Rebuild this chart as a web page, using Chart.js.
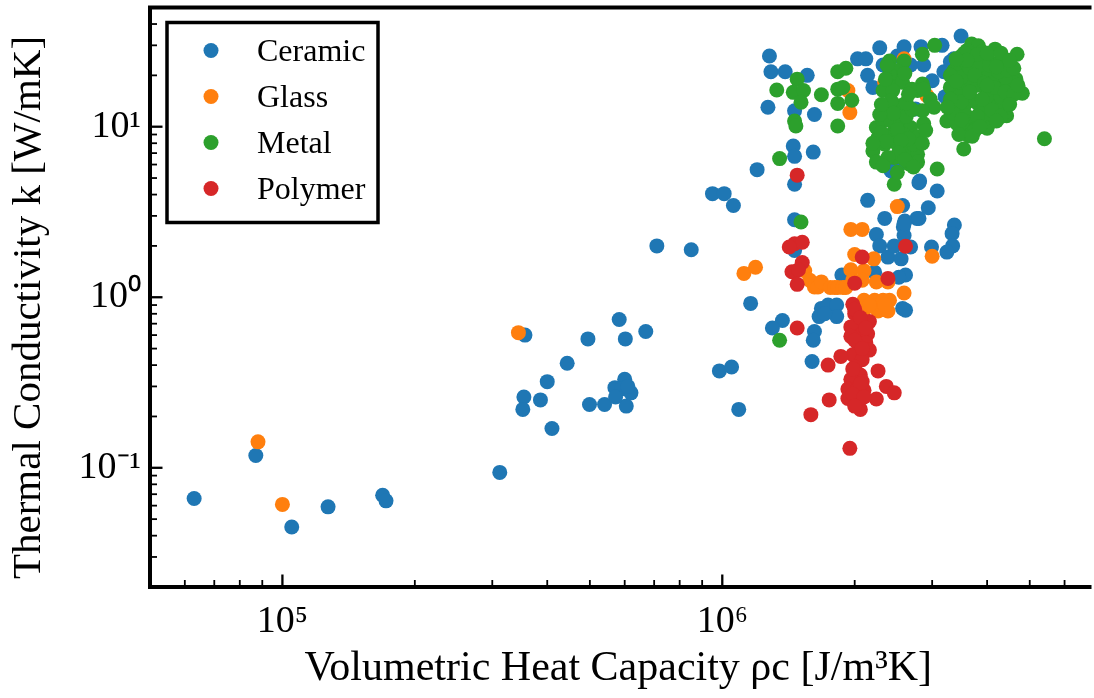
<!DOCTYPE html>
<html><head><meta charset="utf-8">
<script src="https://cdn.jsdelivr.net/npm/chart.js@4.4.0/dist/chart.umd.min.js"></script>
<style>html,body{margin:0;padding:0;background:#fff;}canvas{display:block;}</style>
</head><body>
<canvas id="c" width="1094" height="698"></canvas>
<script>
const seriesNames = ['Ceramic', 'Glass', 'Metal', 'Polymer'];
const seriesColors = ['#1f77b4', '#ff7f0e', '#2ca02c', '#d62728'];

const ceramic = [
  [6.3e4,0.066],[8.7e4,0.118],[1.05e5,0.045],[1.27e5,0.059],[1.69e5,0.069],[1.72e5,0.064],[3.12e5,0.094],
  [3.56e5,0.60],[4.95e5,0.57],[5.83e5,0.74],[6.02e5,0.57],[6.7e5,0.63],[4.44e5,0.41],[4.0e5,0.32],[3.54e5,0.26],
  [3.52e5,0.22],[3.86e5,0.25],[4.1e5,0.17],[4.99e5,0.235],[5.4e5,0.235],[6.05e5,0.23],[6.0e5,0.33],[5.7e5,0.295],
  [5.9e5,0.29],[6.2e5,0.275],[5.72e5,0.26],[6.1e5,0.30],
  [9.85e5,0.37],[1.05e6,0.39],[1.09e6,0.22],[1.16e6,0.92],
  [7.1e5,2.0],[8.5e5,1.9],[9.5e5,4.05],[1.01e6,4.05],[1.06e6,3.45],[1.2e6,5.6],
  [2.14e6,3.7],[2.8e6,4.7],[3.08e6,4.2],[2.57e6,3.45],[2.34e6,2.9],[2.6e6,2.8],[2.77e6,2.9],[2.94e6,3.35],
  [3.37e6,2.65],[3.33e6,2.36],[3.34e6,2.0],[3.24e6,1.84],[2.99e6,1.97],[2.58e6,2.58],[2.59e6,2.3],[2.24e6,2.33],
  [2.28e6,2.0],[2.38e6,1.72],[2.46e6,2.0],[2.55e6,1.68],[2.68e6,1.97],[2.61e6,1.35],[2.52e6,1.31],[2.22e6,1.4],
  [1.87e6,1.35],[2.57e6,0.86],[2.61e6,0.84],[1.68e6,0.86],[1.74e6,0.9],[1.82e6,0.9],[1.66e6,0.77],[1.82e6,0.77],
  [1.71e6,0.8],[1.37e6,0.73],[1.3e6,0.66],[1.62e6,0.63],[1.61e6,0.56],[1.6e6,0.42],[1.46e6,2.85],[1.46e6,1.88],[1.46e6,4.6],
  [1.28e6,26],[1.29e6,21],[1.39e6,21],[1.56e6,20],[1.27e6,13],[1.46e6,12.4],[1.62e6,11.8],[1.45e6,7.7],[1.46e6,6.7],
  [1.61e6,7.1],[2.28e6,29],[2.03e6,25],[2.12e6,25],[2.59e6,29.4],[2.83e6,29.4],[3.16e6,30],[2.32e6,23],[2.14e6,20],
  [2.2e6,17],[2.5e6,26],[2.68e6,23],[2.87e6,23],[3.0e6,18.6],[3.19e6,21],[3.36e6,25],[3.49e6,34],[3.21e6,15],
  [2.75e6,12.7],[2.42e6,5.5],[2.5e6,5.8],[2.81e6,4.8],[2.59e6,2.7],[2.8e6,2.9],[3.3e6,24],[3.4e6,22]
];

const glass = [
  [8.8e4,0.142],[1.0e5,0.061],[3.44e5,0.62],[1.12e6,1.38],[1.19e6,1.5],
  [2.5e6,3.4],[1.96e6,2.5],[2.08e6,2.5],[3.0e6,1.74],[2.0e6,1.78],[2.21e6,1.68],[1.96e6,1.45],[2.1e6,1.43],
  [1.98e6,1.26],[2.08e6,1.26],[2.24e6,1.23],[2.38e6,1.23],[2.59e6,1.06],[1.54e6,1.43],[1.58e6,1.26],[1.62e6,1.15],
  [1.65e6,1.15],[1.68e6,1.23],[1.76e6,1.14],[1.8e6,1.14],[1.83e6,1.14],[1.88e6,1.14],[1.91e6,1.14],
  [2.1e6,0.96],[2.22e6,0.96],[2.32e6,0.96],[2.4e6,0.96],[2.1e6,0.84],[2.26e6,0.83],[2.38e6,0.83],[2.16e6,0.9],[2.34e6,0.9],
  [1.95e6,12.1],[2.59e6,25],[1.93e6,16.3],[2.34e6,18.2],[2.92e6,15.2]
];

const metal = [
  [1.48e6,19],[1.33e6,16.4],[1.45e6,15.9],[1.53e6,16.3],[1.51e6,13.9],[1.46e6,10.8],[1.47e6,10.1],[1.35e6,6.5],
  [1.51e6,2.76],[1.35e6,0.56],[1.68e6,15.4],[1.83e6,21],[1.91e6,22],[1.83e6,16.6],[1.88e6,17],[1.97e6,14.3],
  [1.83e6,13.7],[1.83e6,10.1],
  [2.4e6,24.3],[2.59e6,24.3],[2.49e6,21.3],[2.32e6,16.3],[2.46e6,18.6],[2.57e6,18.2],[2.85e6,26.6],[3.04e6,30],
  [2.85e6,17.8],[2.78e6,16.3],[2.97e6,14.5],[3.03e6,13],[2.85e6,12.4],[2.87e6,10.4],[2.38e6,13],[2.55e6,13.3],
  [2.24e6,9.9],[2.32e6,10.8],[2.42e6,10.8],[2.55e6,10.8],[2.68e6,9.9],[2.78e6,8.7],[2.2e6,7.2],[2.34e6,7.9],
  [2.5e6,7.9],[2.63e6,7.2],[2.78e6,6.9],[2.24e6,6.2],[2.46e6,6.6],[2.66e6,6.05],[2.78e6,6.2],[2.46e6,4.6],
  [3.08e6,5.65],[2.26e6,8.6],[2.42e6,9.0],[2.59e6,9.0],[2.72e6,7.9],[2.4e6,20.3],[2.44e6,16.3],[2.42e6,14.2],
  [2.37e6,23],[2.7e6,16.6],[2.87e6,16.6],
  [2.3e6,9.2],[2.5e6,9.6],[2.65e6,8.5],[2.36e6,8.2],[2.55e6,8.3],[2.62e6,11.5],[2.45e6,12],[2.28e6,11.8],
  [2.7e6,12.6],[2.52e6,7.0],[2.38e6,6.6],[2.6e6,6.4],[2.72e6,5.8],[2.32e6,5.9],[2.5e6,5.4],[2.2e6,8.0],
  [2.85e6,8.0],[2.9e6,9.5],[2.62e6,13.8],[2.3e6,13.5],
  [2.35e6,19],[2.6e6,20.5],[2.65e6,15.5],
  [3.69e6,30.5],[3.82e6,29.8],[4.17e6,28.5],[4.68e6,26.6],[3.42e6,22.7],[3.54e6,23.3],[3.73e6,24.3],[3.99e6,25.4],
  [4.28e6,24.3],[4.35e6,23.3],[3.36e6,21.3],[3.6e6,20.3],[3.94e6,20.8],[4.2e6,19.4],[4.5e6,18.6],[4.65e6,19],
  [3.42e6,16.3],[3.67e6,17],[3.99e6,16.3],[4.35e6,16.6],[4.57e6,18.2],[4.81e6,15.7],[3.36e6,13.6],[3.54e6,13],
  [3.78e6,13.9],[4.04e6,13],[4.35e6,13.6],[4.43e6,11.6],[3.24e6,10.8],[3.42e6,10.4],[3.67e6,10.8],[3.94e6,11.1],
  [4.04e6,10.6],[3.54e6,9.7],[3.78e6,9.9],[3.63e6,8.86],[3.54e6,7.4],[5.4e6,8.5],
  [3.6e6,18],[3.8e6,17.5],[3.9e6,19],[4.1e6,15],[3.7e6,14.5],[3.85e6,12],[4.0e6,21],[3.5e6,19.5],[3.3e6,17],
  [4.2e6,13],[3.95e6,10.5],[3.6e6,11.5],[4.4e6,19.5],[3.45e6,15],[3.7e6,26],[3.9e6,27.5],[3.6e6,28],[4.1e6,18],
  [4.3e6,15],[3.75e6,9.5],
  [3.3e6,20],[3.5e6,26],[3.65e6,22],[3.85e6,23],[4.05e6,23],[4.25e6,21],[4.45e6,21.5],[4.6e6,22],[3.4e6,18.5],
  [3.75e6,20],[3.95e6,18],[4.15e6,17],[4.4e6,16],[4.6e6,15.5],[3.5e6,14],[3.65e6,16],[3.9e6,14.5],[4.1e6,12.5],
  [4.3e6,11.5],[3.35e6,12],[3.5e6,11],[3.8e6,11.5],[4.0e6,9.8],[3.45e6,9],[3.7e6,8.8],[3.85e6,10],[4.2e6,10.8],
  [4.5e6,13.5],[4.7e6,17.5],[3.55e6,27],[3.8e6,26.5],[4.0e6,27],[4.3e6,27],[3.3e6,14.5],[3.25e6,13],[4.0e6,17.5],
  [4.2e6,22.5],[3.6e6,24.5],[3.4e6,25],[4.5e6,24.5]
];

const polymer = [
  [1.48e6,5.2],[1.46e6,2.06],[1.52e6,2.1],[1.42e6,1.97],[1.52e6,1.6],[1.44e6,1.41],[1.49e6,1.45],[1.48e6,1.19],
  [2.08e6,1.72],[2.61e6,1.99],[2.38e6,1.29],[2.0e6,1.21],[1.48e6,0.66],
  [1.98e6,0.91],[2.0e6,0.80],[2.08e6,0.72],[2.16e6,0.72],[1.96e6,0.67],[2.08e6,0.61],[2.14e6,0.61],[1.96e6,0.59],
  [2.03e6,0.54],[2.12e6,0.54],[2.16e6,0.49],[1.98e6,0.46],[1.86e6,0.45],[2.08e6,0.43],[1.74e6,0.40],[2.0e6,0.39],
  [2.26e6,0.37],[2.06e6,0.35],[1.96e6,0.33],[2.08e6,0.32],[1.93e6,0.29],[2.03e6,0.29],[2.1e6,0.285],[2.36e6,0.30],
  [2.46e6,0.275],[1.93e6,0.255],[2.03e6,0.25],[2.24e6,0.253],[1.75e6,0.25],[2.06e6,0.22],[1.59e6,0.205],[1.95e6,0.13],
  [2.0e6,0.85],[2.06e6,0.76],[2.12e6,0.66],[2.0e6,0.56],[2.08e6,0.5],[1.98e6,0.38],[2.06e6,0.31],[1.98e6,0.27],
  [2.1e6,0.26],[2.0e6,0.23]
];

const xTickValues = [1e5, 1e6];
const xTickLabels = ['10⁵', '10⁶'];
const yTickValues = [0.1, 1, 10];
const yTickLabels = ['10⁻¹', '10⁰', '10¹'];
const xRange = [5e4, 6.73e6];
const yRange = [0.02, 50];
const xTitle = 'Volumetric Heat Capacity ρc [J/m³K]';
const yTitle = 'Thermal Conductivity k [W/mK]\u2002';

const FONT = "'Liberation Serif', 'Times New Roman', serif";

function labelFor(values, labels) {
  return v => {
    const i = values.findIndex(t => Math.abs(Math.log10(t) - Math.log10(v)) < 1e-6);
    return i >= 0 ? labels[i] : '';
  };
}

const seriesData = [ceramic, glass, metal, polymer];

const framePlugin = {
  id: 'frame',
  afterDatasetsDraw(chart) {
    const {ctx, chartArea: a, scales: {x, y}} = chart;
    const marks = (scale) => {
      const out = [];
      const lo = Math.floor(Math.log10(scale.min)), hi = Math.ceil(Math.log10(scale.max));
      for (let e = lo; e <= hi; e++) for (let m = 1; m <= 9; m++) {
        const v = m * Math.pow(10, e);
        if (v > scale.min * 1.0001 && v < scale.max * 0.9999) out.push({v, major: m === 1});
      }
      return out;
    };
    ctx.save();
    ctx.strokeStyle = '#000';
    marks(x).forEach(({v, major}) => {
      const px = x.getPixelForValue(v);
      ctx.lineWidth = major ? 2.3 : 1.8;
      ctx.beginPath(); ctx.moveTo(px, a.bottom); ctx.lineTo(px, a.bottom - (major ? 12.5 : 7)); ctx.stroke();
    });
    marks(y).forEach(({v, major}) => {
      const py = y.getPixelForValue(v);
      ctx.lineWidth = major ? 2.3 : 1.8;
      ctx.beginPath(); ctx.moveTo(a.left, py); ctx.lineTo(a.left + (major ? 12.5 : 7), py); ctx.stroke();
    });
    ctx.lineWidth = 4;
    ctx.lineJoin = 'miter';
    ctx.beginPath();
    ctx.moveTo(a.left, a.bottom + 2); ctx.lineTo(a.left, a.top); ctx.lineTo(a.right + 5, a.top);
    ctx.stroke();
    ctx.beginPath(); ctx.moveTo(a.left - 2, a.bottom); ctx.lineTo(a.right + 5, a.bottom); ctx.stroke();
    ctx.restore();
  },
  afterDraw(chart) {
    const {ctx, chartArea: a} = chart;
    ctx.save();
    const bx = a.left + 17, by = a.top + 15, bw = 211, bh = 200;
    ctx.fillStyle = '#fff';
    ctx.fillRect(bx, by, bw, bh);
    ctx.strokeStyle = '#000';
    ctx.lineWidth = 3.5;
    ctx.strokeRect(bx, by, bw, bh);
    ctx.font = '32px ' + FONT;
    ctx.textBaseline = 'alphabetic';
    ctx.textAlign = 'left';
    chart.data.datasets.forEach((ds, i) => {
      const cy = a.top + 43 + 46 * i;
      ctx.fillStyle = ds.backgroundColor;
      ctx.beginPath(); ctx.arc(a.left + 61, cy, 7.5, 0, Math.PI * 2); ctx.fill();
      ctx.fillStyle = '#000';
      ctx.fillText(ds.label, a.left + 107, cy + 10.5);
    });
    ctx.restore();
  }
};

new Chart(document.getElementById('c'), {
  type: 'scatter',
  data: {
    datasets: seriesNames.map((name, i) => ({
      label: name,
      data: seriesData[i].map(([x, y]) => ({x, y})),
      backgroundColor: seriesColors[i],
      borderColor: seriesColors[i],
      borderWidth: 0,
      pointRadius: 7.5,
      pointHoverRadius: 7.5,
      order: seriesNames.length - i
    }))
  },
  options: {
    responsive: false,
    animation: false,
    devicePixelRatio: 1,
    events: [],
    layout: {padding: {top: 7, right: 0, left: 0, bottom: 0}},
    plugins: {legend: {display: false}, tooltip: {enabled: false}},
    scales: {
      x: {
        type: 'logarithmic', position: 'bottom', min: xRange[0], max: xRange[1],
        grid: {display: false, drawTicks: false}, border: {display: false},
        ticks: {autoSkip: false, maxRotation: 0, minRotation: 0, padding: 12, color: '#000',
                font: {family: FONT, size: 38}, callback: labelFor(xTickValues, xTickLabels)},
        title: {display: true, text: xTitle, color: '#000', font: {family: FONT, size: 42}, padding: {top: 0, bottom: 4}},
        afterFit(s) { s.height = 111; s.paddingLeft = 0; s.paddingRight = 0; }
      },
      y: {
        type: 'logarithmic', position: 'left', min: yRange[0], max: yRange[1],
        grid: {display: false, drawTicks: false}, border: {display: false},
        ticks: {autoSkip: false, padding: 9, color: '#000',
                font: {family: FONT, size: 38}, callback: labelFor(yTickValues, yTickLabels)},
        title: {display: true, text: yTitle, color: '#000', font: {family: FONT, size: 41}, padding: {top: 5, bottom: 0}},
        afterFit(s) { s.width = 150; s.paddingTop = 0; s.paddingBottom = 0; }
      }
    }
  },
  plugins: [framePlugin]
});
</script>
</body></html>
